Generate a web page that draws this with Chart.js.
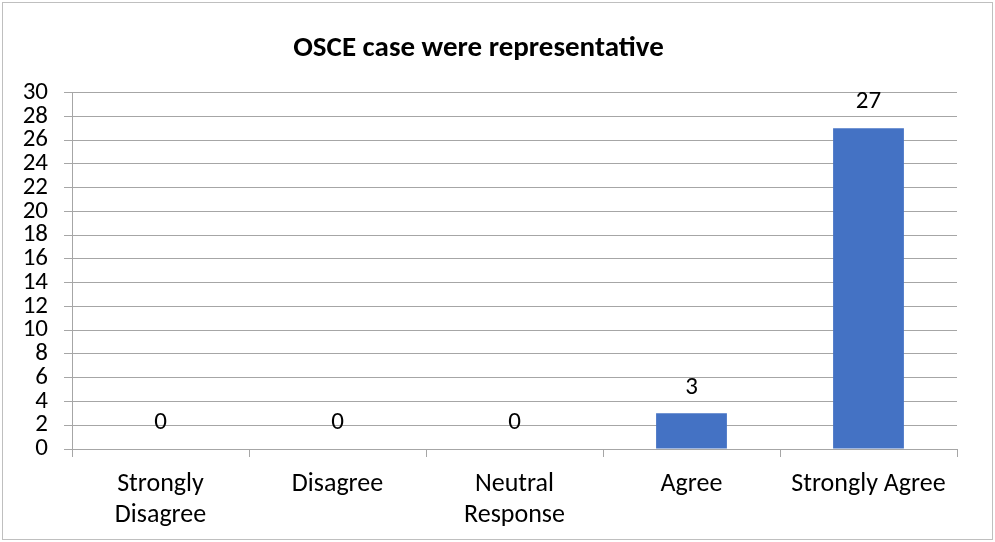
<!DOCTYPE html>
<html>
<head>
<meta charset="utf-8">
<script src="https://cdn.jsdelivr.net/npm/chart.js@4"></script>
<style>
  html, body { margin: 0; padding: 0; background: #fff; }
  #wrap { position: relative; width: 995px; height: 542px; }
  #frame { position: absolute; left: 2px; top: 2px; width: 991px; height: 538px; border: 1px solid #bfbfbf; box-sizing: border-box; pointer-events: none; }
  canvas { display: block; }
</style>
</head>
<body>
<div id="wrap">
  <canvas id="c" width="995" height="542"></canvas>
  <div id="frame"></div>
</div>
<script>
// categories / values / y ticks
const categories = [['Strongly', 'Disagree'], 'Disagree', ['Neutral', 'Response'], 'Agree', 'Strongly Agree'];
const counts = [0, 0, 0, 3, 27];
const yMin = 0, yMax = 30, yStep = 2;

const FONT = "Calibri, Carlito, 'Open Sans', sans-serif";
const GRID = '#a6a6a6';

// value labels above each bar
const valueLabels = {
  id: 'valueLabels',
  afterDatasetsDraw(chart) {
    const ctx = chart.ctx;
    const meta = chart.getDatasetMeta(0);
    ctx.save();
    ctx.font = `25px ${FONT}`;
    ctx.fillStyle = '#000';
    ctx.textAlign = 'center';
    ctx.textBaseline = 'middle';
    meta.data.forEach((bar, i) => {
      ctx.fillText(String(counts[i]), bar.x, bar.y - 26);
    });
    ctx.restore();
  }
};

new Chart(document.getElementById('c').getContext('2d'), {
  type: 'bar',
  data: {
    labels: categories,
    datasets: [{
      data: counts,
      backgroundColor: '#4472C4',
      borderWidth: 0,
      barPercentage: 0.4,
      categoryPercentage: 1
    }]
  },
  options: {
    responsive: false,
    animation: false,
    layout: { padding: { left: 0, right: 38, top: 0, bottom: 0 } },
    plugins: {
      legend: { display: false },
      tooltip: { enabled: false },
      title: {
        display: true,
        text: 'OSCE case were representative',
        color: '#000',
        font: { family: FONT, size: 29, weight: 'bold' },
        padding: { top: 31, bottom: 26.7 }
      }
    },
    scales: {
      x: {
        grid: { drawOnChartArea: false, drawTicks: true, tickLength: 8, color: GRID },
        border: { color: GRID },
        ticks: { color: '#000', font: { family: FONT, size: 26, lineHeight: 1.2 }, padding: 12, maxRotation: 0, autoSkip: false },
        afterFit: (s) => { s.height = 93; }
      },
      y: {
        min: yMin, max: yMax,
        grid: { color: GRID, tickLength: 8 },
        border: { color: GRID },
        ticks: { stepSize: yStep, autoSkip: false, color: '#000', font: { family: FONT, size: 25 }, padding: 16 },
        afterFit: (s) => { s.width = 72; }
      }
    }
  },
  plugins: [valueLabels]
});
</script>
</body>
</html>
